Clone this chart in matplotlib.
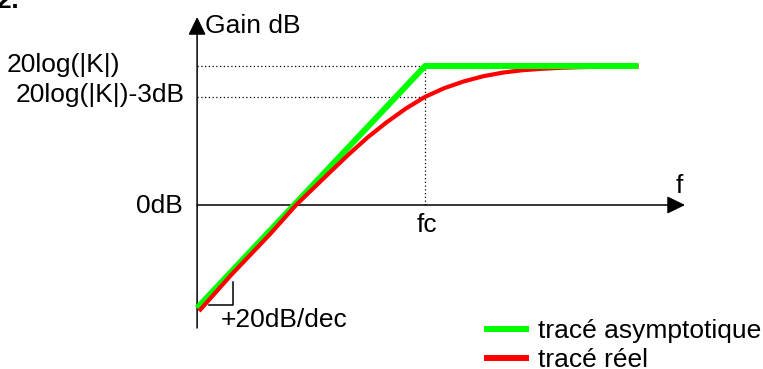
import matplotlib
matplotlib.use('Agg')  # no display

import matplotlib.pyplot as plt

plt.rcParams['font.family'] = ['Liberation Sans', 'DejaVu Sans']

# x : log10(f/fc) in decades, y : gain in dB
gain_k = 13.5                      # 20log(|K|)
x_start, x_end = -1.175, 1.10      # extent of the drawn curves
axis_x = [-1.175, 1.34]            # frequency axis (0 dB line)
axis_db = [-11.94, 18.25]          # gain axis

asym_x = [x_start, 0.0, x_end]
asym_db = [-10.0, gain_k, gain_k]

real_x = [-1.165, -1.0, -0.8, -0.665, -0.5, -0.4, -0.3, -0.2, -0.1, 0.0,
          0.1, 0.2, 0.3, 0.4, 0.5, 0.6, 0.7, 0.8, 0.9, 1.0, 1.1]
real_db = [-10.3, -6.8, -2.85, 0.0, 3.0, 4.8, 6.5, 8.0, 9.35, 10.5,
           11.35, 12.0, 12.5, 12.85, 13.08, 13.22, 13.32, 13.38, 13.42, 13.45, 13.46]

# little slope mark under the asymptote
slope_x = [-1.113, -0.99, -0.99]
slope_db = [-9.7, -9.7, -7.5]

fig = plt.figure(figsize=(7.63, 3.69), dpi=100)
ax = fig.add_axes([0, 0, 1, 1])
ax.set_xlim(-2.191, 1.742)
ax.set_ylim(-15.92, 19.90)
ax.axis('off')

fs = 19
arrow = dict(arrowstyle='-|>,head_length=0.55,head_width=0.27', mutation_scale=20,
             color='black', lw=1.1, shrinkA=0, shrinkB=0)

# axes with arrows
ax.annotate('', xy=(axis_x[0], axis_db[1]), xytext=(axis_x[0], axis_db[0]), arrowprops=arrow)
ax.annotate('', xy=(axis_x[1], 0), xytext=(axis_x[0], 0), arrowprops=arrow)

# dotted guides
dots = dict(color='black', ls=(0, (1, 2)), lw=0.9)
ax.plot([x_start, 0], [gain_k, gain_k], **dots)
ax.plot([x_start, 0], [gain_k - 3, gain_k - 3], **dots)
ax.plot([0, 0], [0, gain_k], **dots)

ax.plot(slope_x, slope_db, color='black', lw=1.1)

# curves: real curve over the rising asymptote, plateau drawn over the real curve
ax.plot(asym_x, asym_db, color='#00ff00', lw=4.3, solid_capstyle='butt', zorder=3,
        label='tracé asymptotique')
ax.plot(real_x, real_db, color='#ff0000', lw=3.0, solid_capstyle='butt', zorder=4,
        label='tracé réel')
ax.plot(asym_x[1:], asym_db[1:], color='#00ff00', lw=4.3, solid_capstyle='butt', zorder=5)

# labels
ax.text(-1.134, 16.7, 'Gain dB', fontsize=fs, va='baseline', ha='left')
ax.text(-2.155, 12.91, '20log(|K|)', fontsize=fs, va='baseline', ha='left')
ax.text(-2.113, 10.0, '20log(|K|)-3dB', fontsize=fs, va='baseline', ha='left')
ax.text(-1.247, -0.78, '0dB', fontsize=fs, va='baseline', ha='right')
ax.text(0.01, -2.62, 'fc', fontsize=fs, va='baseline', ha='center')
ax.text(1.309, 1.17, 'f', fontsize=fs, va='baseline', ha='center')
ax.text(-1.055, -11.84, '+20dB/dec', fontsize=fs, va='baseline', ha='left')
ax.text(-2.211, 19.1, '2:', fontsize=fs, fontweight='bold', va='baseline', ha='left')

handles, labels = ax.get_legend_handles_labels()
leg = ax.legend(handles, labels, loc='upper left',
                bbox_to_anchor=(484 / 763, 1 - 319 / 369), bbox_transform=fig.transFigure,
                frameon=False, fontsize=fs, handlelength=1.7, handletextpad=0.34,
                labelspacing=0.19, borderpad=0, borderaxespad=0)
for line in leg.get_lines():
    line.set_linewidth(4.3)

fig.savefig('out.png', dpi=100)
plt.close(fig)
